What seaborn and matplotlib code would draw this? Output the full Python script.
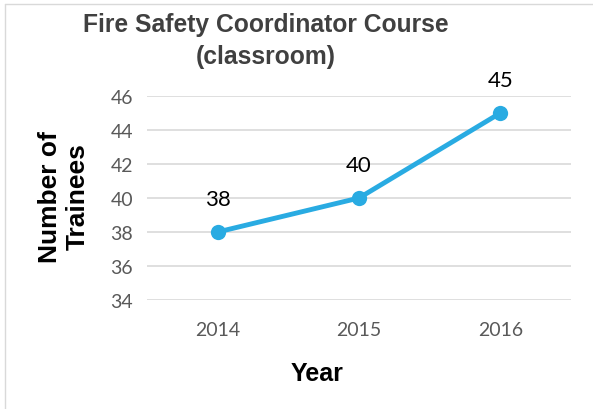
import matplotlib
matplotlib.use("Agg")
import matplotlib.pyplot as plt
import seaborn as sns
import pandas as pd
from matplotlib.lines import Line2D

years = ["2014", "2015", "2016"]
trainees = [38, 40, 45]
y_ticks = [34, 36, 38, 40, 42, 44, 46]

df = pd.DataFrame({"Year": years, "Trainees": trainees})

sns.set_style("white")
plt.rcParams["font.family"] = ["Liberation Sans", "DejaVu Sans"]

fig = plt.figure(figsize=(5.93, 4.10), dpi=100)
ax = fig.add_axes([147 / 593, 1 - 301 / 410, 424 / 593, 204 / 410])

line_color = "#29ABE2"
sns.lineplot(data=df, x="Year", y="Trainees", ax=ax, color=line_color,
             linewidth=3.5, marker="o", markersize=11, markeredgewidth=0, sort=False)

ax.set_xlim(-0.5, 2.5)
ax.set_ylim(34, 46)
ax.set_yticks(y_ticks)
ax.grid(axis="y", color="#D9D9D9", linewidth=1.2)
ax.set_axisbelow(True)
for s in ax.spines.values():
    s.set_visible(False)
ax.tick_params(length=0, labelsize=14, labelcolor="#595959")
ax.tick_params(axis="y", pad=10)
ax.tick_params(axis="x", pad=15)
for lab in ax.get_xticklabels() + ax.get_yticklabels():
    lab.set_family(["Lato", "DejaVu Sans"])
ax.set_xlabel("")
ax.set_ylabel("")

# data labels above the points
for i, v in enumerate(trainees):
    ax.annotate(str(v), (i, v), xytext=(0, 24), textcoords="offset points",
                ha="center", va="center", fontsize=16, color="black",
                family=["Lato", "DejaVu Sans"])

fig.text(266 / 593, 1 - 41 / 410, "Fire Safety Coordinator Course\n(classroom)",
         ha="center", va="center", fontsize=17.7, fontweight="bold",
         color="#404040", linespacing=1.4)
fig.text(64 / 593, 1 - 197 / 410, "Number of\nTrainees", rotation=90,
         ha="center", va="center", fontsize=19, fontweight="bold",
         color="black", linespacing=1.22)
fig.text(317 / 593, 1 - 374 / 410, "Year", ha="center", va="center",
         fontsize=18, fontweight="bold", color="black")

# outer chart border (partly cropped)
fig.add_artist(Line2D([5 / 593, 5 / 593], [0, 1 - 5 / 410], transform=fig.transFigure,
                      color="#D9D9D9", linewidth=1))
fig.add_artist(Line2D([5 / 593, 1], [1 - 5 / 410, 1 - 5 / 410], transform=fig.transFigure,
                      color="#D9D9D9", linewidth=1))

fig.savefig("out.png", dpi=100)
